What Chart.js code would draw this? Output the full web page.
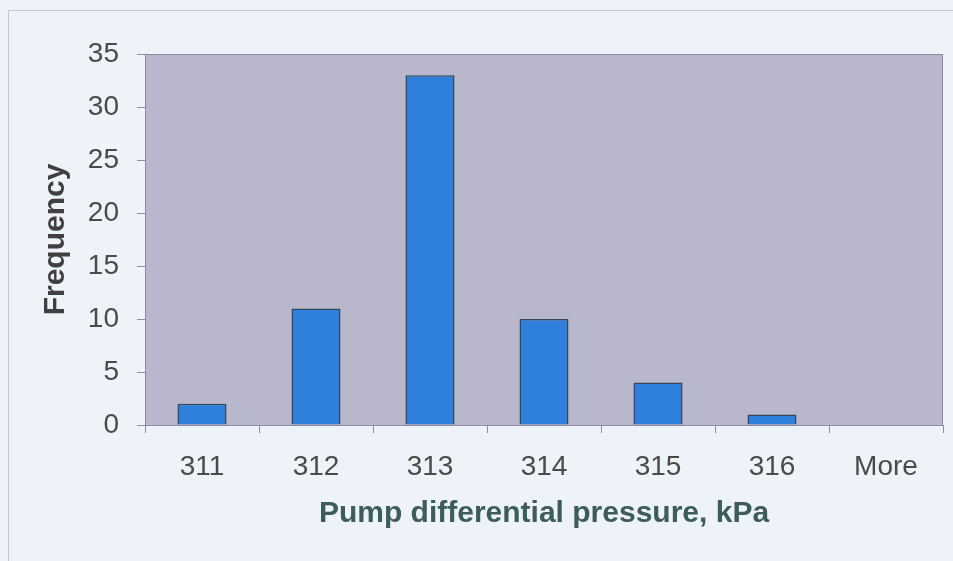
<!DOCTYPE html>
<html>
<head>
<meta charset="utf-8">
<script src="https://cdn.jsdelivr.net/npm/chart.js@4.4.0/dist/chart.umd.min.js"></script>
<style>
  html, body { margin: 0; padding: 0; background: #eef3f9; }
  #wrap { position: relative; width: 953px; height: 561px; overflow: hidden; }
  #frame {
    position: absolute; left: 8px; top: 10px; width: 1000px; height: 600px;
    border-left: 1px solid #c4c8cc; border-top: 1px solid #c4c8cc;
  }
  canvas { position: absolute; left: 0; top: 0; }
</style>
</head>
<body>
<div id="wrap">
  <div id="frame"></div>
  <canvas id="chart" width="953" height="561"></canvas>
</div>
<script>
// histogram bins and counts
const bins = ["311", "312", "313", "314", "315", "316", "More"];
const frequency = [2, 11, 33, 10, 4, 1, 0];
const yTicks = [0, 5, 10, 15, 20, 25, 30, 35];

const FONT = "'Liberation Sans', Arial, sans-serif";

// gray-lavender plot area with a thin border, like the Excel original
const plotArea = {
  id: "plotArea",
  beforeDraw(chart) {
    const { ctx, chartArea: a } = chart;
    ctx.save();
    ctx.fillStyle = "#b8b7cb";
    ctx.fillRect(a.left, a.top, a.right - a.left, a.bottom - a.top);
    ctx.restore();
  },
  afterDraw(chart) {
    const { ctx, chartArea: a } = chart;
    ctx.save();
    ctx.strokeStyle = "#8e8ca0";
    ctx.lineWidth = 1;
    ctx.strokeRect(a.left + 0.5, a.top + 0.5, a.right - a.left - 1, a.bottom - a.top);
    ctx.restore();
  },
};

new Chart(document.getElementById("chart").getContext("2d"), {
  type: "bar",
  data: {
    labels: bins,
    datasets: [{
      label: "Frequency",
      data: frequency,
      backgroundColor: "#2f80dc",
      borderColor: "#34485c",
      borderWidth: 1.5,
      barPercentage: 0.43,
      categoryPercentage: 1,
    }],
  },
  options: {
    responsive: false,
    animation: false,
    layout: { padding: { top: 54, right: 10, left: 0, bottom: 0 } },
    plugins: { legend: { display: false }, tooltip: { enabled: false } },
    scales: {
      x: {
        offset: true,
        grid: { offset: true, drawOnChartArea: false, tickLength: 8, color: "#8e8ca0" },
        border: { color: "#8e8ca0" },
        ticks: { color: "#4a4a4a", font: { family: FONT, size: 28 }, padding: 17 },
        title: {
          display: true, text: "Pump differential pressure, kPa", color: "#3d5c5c",
          font: { family: FONT, size: 30, weight: "bold" }, padding: { top: 29, bottom: 29 },
        },
        afterFit(scale) { scale.height = 136; },
      },
      y: {
        min: 0, max: 35,
        afterBuildTicks(scale) { scale.ticks = yTicks.map((v) => ({ value: v })); },
        grid: { drawOnChartArea: false, tickLength: 8, color: "#8e8ca0" },
        border: { color: "#8e8ca0" },
        ticks: { color: "#4a4a4a", font: { family: FONT, size: 28 }, padding: 18 },
        title: {
          display: true, text: "Frequency", color: "#404040",
          font: { family: FONT, size: 30, weight: "bold" }, padding: { top: 38, bottom: 0 },
        },
        afterFit(scale) { scale.width = 145; },
      },
    },
  },
  plugins: [plotArea],
});
</script>
</body>
</html>
